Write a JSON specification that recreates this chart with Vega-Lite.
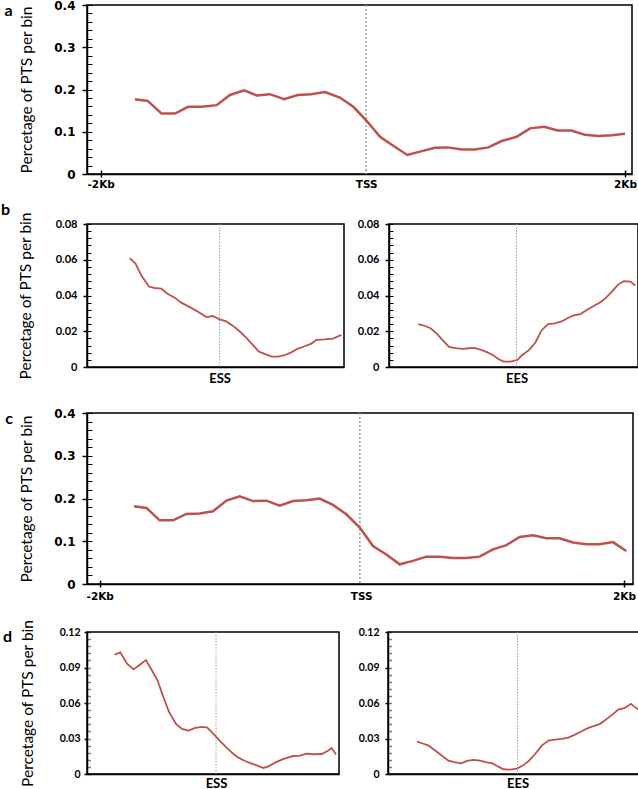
{
  "$schema": "https://vega.github.io/schema/vega-lite/v6.json",
  "padding": {"top": -2, "left": 0, "right": 2, "bottom": 0},
  "background": "white",
  "config": {
    "font": "Lato",
    "view": {"stroke": "black", "strokeWidth": 1.5},
    "axis": {"domainColor": "black", "domainWidth": 1.5, "tickColor": "black", "grid": false, "labelColor": "black", "titleColor": "black"},
    "title": {"orient": "left", "anchor": "end", "angle": 0, "align": "right", "baseline": "top", "frame": "group", "offset": -1, "fontSize": 16, "fontWeight": "bold", "font": "Lato", "color": "black"}
  },
  "datasets": {
    "a": [
      {"pos": -1738, "v": 0.177}, {"pos": -1641, "v": 0.173}, {"pos": -1535, "v": 0.143}, {"pos": -1433, "v": 0.143},
      {"pos": -1332, "v": 0.159}, {"pos": -1230, "v": 0.159}, {"pos": -1115, "v": 0.163}, {"pos": -1014, "v": 0.187},
      {"pos": -905, "v": 0.198}, {"pos": -810, "v": 0.186}, {"pos": -709, "v": 0.189}, {"pos": -600, "v": 0.177},
      {"pos": -497, "v": 0.187}, {"pos": -396, "v": 0.189}, {"pos": -289, "v": 0.194}, {"pos": -175, "v": 0.181},
      {"pos": -73, "v": 0.159}, {"pos": 29, "v": 0.126}, {"pos": 131, "v": 0.088}, {"pos": 232, "v": 0.067},
      {"pos": 339, "v": 0.045}, {"pos": 436, "v": 0.053}, {"pos": 550, "v": 0.062}, {"pos": 647, "v": 0.063},
      {"pos": 754, "v": 0.058}, {"pos": 855, "v": 0.058}, {"pos": 957, "v": 0.063}, {"pos": 1059, "v": 0.078},
      {"pos": 1173, "v": 0.088}, {"pos": 1275, "v": 0.108}, {"pos": 1384, "v": 0.112}, {"pos": 1486, "v": 0.103},
      {"pos": 1588, "v": 0.103}, {"pos": 1694, "v": 0.093}, {"pos": 1796, "v": 0.090}, {"pos": 1898, "v": 0.092},
      {"pos": 2000, "v": 0.095}
    ],
    "c": [
      {"pos": -1738, "v": 0.182}, {"pos": -1644, "v": 0.178}, {"pos": -1542, "v": 0.149}, {"pos": -1441, "v": 0.149},
      {"pos": -1339, "v": 0.164}, {"pos": -1237, "v": 0.165}, {"pos": -1136, "v": 0.170}, {"pos": -1033, "v": 0.195},
      {"pos": -932, "v": 0.205}, {"pos": -830, "v": 0.194}, {"pos": -728, "v": 0.195}, {"pos": -627, "v": 0.183},
      {"pos": -525, "v": 0.194}, {"pos": -423, "v": 0.196}, {"pos": -322, "v": 0.200}, {"pos": -220, "v": 0.185},
      {"pos": -118, "v": 0.163}, {"pos": -16, "v": 0.132}, {"pos": 85, "v": 0.089}, {"pos": 187, "v": 0.069},
      {"pos": 289, "v": 0.046}, {"pos": 390, "v": 0.054}, {"pos": 492, "v": 0.064}, {"pos": 594, "v": 0.064},
      {"pos": 695, "v": 0.061}, {"pos": 797, "v": 0.061}, {"pos": 899, "v": 0.064}, {"pos": 1000, "v": 0.081},
      {"pos": 1103, "v": 0.091}, {"pos": 1204, "v": 0.110}, {"pos": 1306, "v": 0.114}, {"pos": 1408, "v": 0.107},
      {"pos": 1509, "v": 0.107}, {"pos": 1611, "v": 0.097}, {"pos": 1713, "v": 0.093}, {"pos": 1814, "v": 0.093},
      {"pos": 1916, "v": 0.098}, {"pos": 2018, "v": 0.077}
    ],
    "b1": [
      {"pos": 16.6, "v": 0.0609}, {"pos": 18.9, "v": 0.0579}, {"pos": 21.2, "v": 0.051}, {"pos": 24.1, "v": 0.045},
      {"pos": 26.3, "v": 0.0442}, {"pos": 28.9, "v": 0.0438}, {"pos": 31.5, "v": 0.0408}, {"pos": 34.1, "v": 0.0388},
      {"pos": 36.7, "v": 0.036}, {"pos": 40.0, "v": 0.0335}, {"pos": 43.2, "v": 0.0309}, {"pos": 46.5, "v": 0.0279},
      {"pos": 49.0, "v": 0.0285}, {"pos": 51.6, "v": 0.0266}, {"pos": 54.2, "v": 0.0255}, {"pos": 56.8, "v": 0.023},
      {"pos": 59.4, "v": 0.020}, {"pos": 62.0, "v": 0.0163}, {"pos": 64.6, "v": 0.0122}, {"pos": 66.9, "v": 0.0086},
      {"pos": 69.1, "v": 0.0073}, {"pos": 71.8, "v": 0.0058}, {"pos": 74.3, "v": 0.0058}, {"pos": 76.9, "v": 0.0066},
      {"pos": 79.5, "v": 0.0082}, {"pos": 82.1, "v": 0.0103}, {"pos": 84.7, "v": 0.0116}, {"pos": 87.3, "v": 0.0131},
      {"pos": 89.3, "v": 0.0152}, {"pos": 92.5, "v": 0.0154}, {"pos": 95.7, "v": 0.0159}, {"pos": 99.0, "v": 0.018}
    ],
    "b2": [
      {"pos": 11.8, "v": 0.024}, {"pos": 14.0, "v": 0.0232}, {"pos": 16.7, "v": 0.0217}, {"pos": 19.4, "v": 0.0184},
      {"pos": 21.4, "v": 0.0152}, {"pos": 24.1, "v": 0.0112}, {"pos": 26.8, "v": 0.0105}, {"pos": 29.4, "v": 0.0101},
      {"pos": 32.1, "v": 0.0105}, {"pos": 34.1, "v": 0.0107}, {"pos": 36.8, "v": 0.0097}, {"pos": 39.5, "v": 0.0082},
      {"pos": 41.5, "v": 0.0069}, {"pos": 44.1, "v": 0.0043}, {"pos": 46.1, "v": 0.003}, {"pos": 48.8, "v": 0.003},
      {"pos": 51.5, "v": 0.0039}, {"pos": 53.5, "v": 0.0067}, {"pos": 56.2, "v": 0.0094}, {"pos": 58.8, "v": 0.0137},
      {"pos": 61.3, "v": 0.0206}, {"pos": 63.9, "v": 0.024}, {"pos": 66.6, "v": 0.0244}, {"pos": 69.3, "v": 0.0255},
      {"pos": 72.2, "v": 0.0277}, {"pos": 74.2, "v": 0.0289}, {"pos": 76.9, "v": 0.0296}, {"pos": 79.6, "v": 0.032},
      {"pos": 82.2, "v": 0.0341}, {"pos": 84.9, "v": 0.0362}, {"pos": 86.9, "v": 0.0384}, {"pos": 89.6, "v": 0.0423},
      {"pos": 92.0, "v": 0.0461}, {"pos": 94.3, "v": 0.048}, {"pos": 97.0, "v": 0.0478}, {"pos": 98.9, "v": 0.0455}
    ],
    "d1": [
      {"pos": 10.9, "v": 0.1008}, {"pos": 13.2, "v": 0.1028}, {"pos": 15.9, "v": 0.0932}, {"pos": 18.5, "v": 0.0884},
      {"pos": 21.1, "v": 0.0926}, {"pos": 23.4, "v": 0.0963}, {"pos": 25.8, "v": 0.0875}, {"pos": 28.0, "v": 0.079},
      {"pos": 30.4, "v": 0.0644}, {"pos": 32.6, "v": 0.0522}, {"pos": 35.3, "v": 0.0424}, {"pos": 37.7, "v": 0.0381},
      {"pos": 40.3, "v": 0.0367}, {"pos": 42.9, "v": 0.039}, {"pos": 45.6, "v": 0.0398}, {"pos": 47.6, "v": 0.0395},
      {"pos": 50.2, "v": 0.0339}, {"pos": 52.8, "v": 0.0277}, {"pos": 55.5, "v": 0.022}, {"pos": 58.1, "v": 0.0169},
      {"pos": 60.1, "v": 0.0138}, {"pos": 62.7, "v": 0.011}, {"pos": 65.4, "v": 0.0088}, {"pos": 67.4, "v": 0.0073},
      {"pos": 70.0, "v": 0.0051}, {"pos": 72.0, "v": 0.0065}, {"pos": 74.6, "v": 0.0096}, {"pos": 77.3, "v": 0.0121},
      {"pos": 79.9, "v": 0.0141}, {"pos": 81.9, "v": 0.0152}, {"pos": 84.5, "v": 0.0155}, {"pos": 87.2, "v": 0.0172},
      {"pos": 89.8, "v": 0.0167}, {"pos": 93.1, "v": 0.0169}, {"pos": 95.8, "v": 0.0198}, {"pos": 97.1, "v": 0.022},
      {"pos": 98.8, "v": 0.0164}
    ],
    "d2": [
      {"pos": 11.5, "v": 0.0274}, {"pos": 13.5, "v": 0.026}, {"pos": 16.1, "v": 0.024}, {"pos": 18.7, "v": 0.0198},
      {"pos": 21.4, "v": 0.0155}, {"pos": 24.0, "v": 0.0113}, {"pos": 26.7, "v": 0.0099}, {"pos": 29.1, "v": 0.009},
      {"pos": 31.3, "v": 0.011}, {"pos": 33.9, "v": 0.0119}, {"pos": 36.6, "v": 0.0113}, {"pos": 39.2, "v": 0.0099},
      {"pos": 41.5, "v": 0.009}, {"pos": 43.8, "v": 0.0062}, {"pos": 45.8, "v": 0.004}, {"pos": 48.5, "v": 0.0037},
      {"pos": 51.1, "v": 0.0045}, {"pos": 53.5, "v": 0.0071}, {"pos": 55.7, "v": 0.0107}, {"pos": 58.4, "v": 0.0169},
      {"pos": 61.0, "v": 0.024}, {"pos": 63.7, "v": 0.0282}, {"pos": 66.3, "v": 0.0291}, {"pos": 69.0, "v": 0.0296},
      {"pos": 71.6, "v": 0.0308}, {"pos": 74.2, "v": 0.0333}, {"pos": 76.9, "v": 0.0361}, {"pos": 79.5, "v": 0.039},
      {"pos": 82.2, "v": 0.0409}, {"pos": 84.2, "v": 0.0424}, {"pos": 86.8, "v": 0.0466}, {"pos": 89.4, "v": 0.0508},
      {"pos": 91.4, "v": 0.0545}, {"pos": 94.1, "v": 0.0559}, {"pos": 96.4, "v": 0.0593}, {"pos": 98.0, "v": 0.0565},
      {"pos": 99.3, "v": 0.0545}
    ]
  },
  "vconcat": [
    {
      "vconcat": [
        {
          "title": {"text": "a", "dy": -2},
          "width": 545, "height": 169,
          "data": {"name": "a"},
          "layer": [
            {"data": {"values": [{}]}, "mark": {"type": "rule", "color": "#a0a0a0", "strokeDash": [2, 2], "strokeWidth": 1.5},
             "encoding": {"x": {"datum": 25, "type": "quantitative", "axis": null}}},
            {"mark": {"type": "line", "color": "#c0504d", "strokeWidth": 2.5},
             "encoding": {
               "x": {"field": "pos", "type": "quantitative", "scale": {"domain": [-2104, 2053], "nice": false, "zero": false},
                     "axis": {"orient": "bottom", "values": [-2000, 25, 2000], "labelExpr": "datum.value < -1000 ? '-2Kb' : (datum.value > 1000 ? '2Kb' : 'TSS')", "tickSize": 3, "tickWidth": 1.5, "tickOpacity": {"condition": {"test": "datum.value == 25", "value": 0}, "value": 1}, "labelFont": "DejaVu Sans", "labelFontWeight": "bold", "labelFontSize": 10.5, "labelPadding": 2, "title": null}},
               "y": {"field": "v", "type": "quantitative", "scale": {"domain": [0, 0.4], "nice": false},
                     "axis": {"orient": "left", "values": [0, 0.1, 0.2, 0.3, 0.4], "labelExpr": "datum.value == 0 ? '0' : format(datum.value, '.1f')", "tickSize": 5, "tickWidth": 1.5, "labelPadding": 7, "labelFont": "DejaVu Sans", "labelFontWeight": "bold", "labelFontSize": 12, "title": "Percetage of PTS per bin", "titleFont": "Lato", "titleFontSize": 15.5, "titleFontWeight": "normal", "titlePadding": 19}}
             }},
            {"mark": {"type": "line", "opacity": 0},
             "encoding": {
               "x": {"field": "pos", "type": "quantitative", "axis": {"orient": "bottom", "values": [-2000, 2000], "tickSize": -4, "tickWidth": 1.5, "labels": false, "domain": false, "title": null}},
               "y": {"field": "v", "type": "quantitative", "axis": {"orient": "left", "values": [0, 0.02, 0.04, 0.06, 0.08, 0.1, 0.12, 0.14, 0.16, 0.18, 0.2, 0.22, 0.24, 0.26, 0.28, 0.3, 0.32, 0.34, 0.36, 0.38, 0.4], "tickSize": -5, "tickWidth": 1, "labels": false, "domain": false, "title": null}}
             }}
          ],
          "resolve": {"axis": {"x": "independent", "y": "independent"}}
        },
        {
          "hconcat": [
            {
              "title": {"text": "b", "dy": -22},
              "width": 257, "height": 143,
              "data": {"name": "b1"},
              "layer": [
                {"data": {"values": [{}]}, "mark": {"type": "rule", "color": "#a0a0a0", "strokeDash": [1.5, 1.5], "strokeWidth": 1},
                 "encoding": {"x": {"datum": 51.6, "type": "quantitative", "axis": null}}},
                {"mark": {"type": "line", "color": "#c0504d", "strokeWidth": 1.8},
                 "encoding": {
                   "x": {"field": "pos", "type": "quantitative", "scale": {"domain": [0, 100], "nice": false, "zero": false},
                         "axis": {"orient": "bottom", "values": [51.6], "labelExpr": "'ESS'", "tickSize": 0, "labelFont": "Lato", "labelFontWeight": "bold", "labelFontSize": 13, "labelPadding": 5, "title": null}},
                   "y": {"field": "v", "type": "quantitative", "scale": {"domain": [0, 0.08], "nice": false},
                         "axis": {"orient": "left", "values": [0, 0.02, 0.04, 0.06, 0.08], "labelExpr": "datum.value == 0 ? '0' : format(datum.value, '.2f')", "tickSize": 4, "tickWidth": 1.5, "labelPadding": 6, "labelFont": "Lato", "labelFontWeight": "bold", "labelFontSize": 11, "title": "Percetage of PTS per bin", "titleFont": "Lato", "titleFontSize": 15.5, "titleFontWeight": "normal", "titlePadding": 22}}
                 }},
                {"mark": {"type": "line", "opacity": 0},
                 "encoding": {
                   "x": {"field": "pos", "type": "quantitative", "axis": null},
                   "y": {"field": "v", "type": "quantitative", "axis": {"orient": "left", "values": [0, 0.004, 0.008, 0.012, 0.016, 0.02, 0.024, 0.028, 0.032, 0.036, 0.04, 0.044, 0.048, 0.052, 0.056, 0.06, 0.064, 0.068, 0.072, 0.076, 0.08], "tickSize": -4, "tickWidth": 1, "labels": false, "domain": false, "title": null}}
                 }}
              ],
              "resolve": {"axis": {"x": "independent", "y": "independent"}}
            },
            {
              "width": 249, "height": 143,
              "data": {"name": "b2"},
              "layer": [
                {"data": {"values": [{}]}, "mark": {"type": "rule", "color": "#a0a0a0", "strokeDash": [1.5, 1.5], "strokeWidth": 1},
                 "encoding": {"x": {"datum": 51.2, "type": "quantitative", "axis": null}}},
                {"mark": {"type": "line", "color": "#c0504d", "strokeWidth": 1.8},
                 "encoding": {
                   "x": {"field": "pos", "type": "quantitative", "scale": {"domain": [0, 100], "nice": false, "zero": false},
                         "axis": {"orient": "bottom", "values": [51.2], "labelExpr": "'EES'", "tickSize": 0, "labelFont": "Lato", "labelFontWeight": "bold", "labelFontSize": 13, "labelPadding": 5, "title": null}},
                   "y": {"field": "v", "type": "quantitative", "scale": {"domain": [0, 0.08], "nice": false},
                         "axis": {"orient": "left", "values": [0, 0.02, 0.04, 0.06, 0.08], "labelExpr": "datum.value == 0 ? '0' : format(datum.value, '.2f')", "tickSize": 4, "tickWidth": 1.5, "labelPadding": 6, "labelFont": "Lato", "labelFontWeight": "bold", "labelFontSize": 11, "title": null}}
                 }},
                {"mark": {"type": "line", "opacity": 0},
                 "encoding": {
                   "x": {"field": "pos", "type": "quantitative", "axis": null},
                   "y": {"field": "v", "type": "quantitative", "axis": {"orient": "left", "values": [0, 0.004, 0.008, 0.012, 0.016, 0.02, 0.024, 0.028, 0.032, 0.036, 0.04, 0.044, 0.048, 0.052, 0.056, 0.06, 0.064, 0.068, 0.072, 0.076, 0.08], "tickSize": -4, "tickWidth": 1, "labels": false, "domain": false, "title": null}}
                 }}
              ],
              "resolve": {"axis": {"x": "independent", "y": "independent"}}
            }
          ],
          "spacing": 10
        }
      ],
      "spacing": 10
    },
    {
      "vconcat": [
        {
          "title": {"text": "c", "dy": -2},
          "width": 546, "height": 171,
          "data": {"name": "c"},
          "layer": [
            {"data": {"values": [{}]}, "mark": {"type": "rule", "color": "#a0a0a0", "strokeDash": [2, 2], "strokeWidth": 1.5},
             "encoding": {"x": {"datum": -15, "type": "quantitative", "axis": null}}},
            {"mark": {"type": "line", "color": "#c0504d", "strokeWidth": 2.5},
             "encoding": {
               "x": {"field": "pos", "type": "quantitative", "scale": {"domain": [-2097, 2069], "nice": false, "zero": false},
                     "axis": {"orient": "bottom", "values": [-2000, -5, 2000], "labelExpr": "datum.value < -1000 ? '-2Kb' : (datum.value > 1000 ? '2Kb' : 'TSS')", "tickSize": 3, "tickWidth": 1.5, "tickOpacity": {"condition": {"test": "datum.value == -5", "value": 0}, "value": 1}, "labelFont": "DejaVu Sans", "labelFontWeight": "bold", "labelFontSize": 10.5, "labelPadding": 4, "title": null}},
               "y": {"field": "v", "type": "quantitative", "scale": {"domain": [0, 0.4], "nice": false},
                     "axis": {"orient": "left", "values": [0, 0.1, 0.2, 0.3, 0.4], "labelExpr": "datum.value == 0 ? '0' : format(datum.value, '.1f')", "tickSize": 5, "tickWidth": 1.5, "labelPadding": 7, "labelFont": "DejaVu Sans", "labelFontWeight": "bold", "labelFontSize": 12, "title": "Percetage of PTS per bin", "titleFont": "Lato", "titleFontSize": 15.5, "titleFontWeight": "normal", "titlePadding": 19}}
             }},
            {"mark": {"type": "line", "opacity": 0},
             "encoding": {
               "x": {"field": "pos", "type": "quantitative", "axis": {"orient": "bottom", "values": [-2000, 2000], "tickSize": -4, "tickWidth": 1.5, "labels": false, "domain": false, "title": null}},
               "y": {"field": "v", "type": "quantitative", "axis": {"orient": "left", "values": [0, 0.02, 0.04, 0.06, 0.08, 0.1, 0.12, 0.14, 0.16, 0.18, 0.2, 0.22, 0.24, 0.26, 0.28, 0.3, 0.32, 0.34, 0.36, 0.38, 0.4], "tickSize": -5, "tickWidth": 1, "labels": false, "domain": false, "title": null}}
             }}
          ],
          "resolve": {"axis": {"x": "independent", "y": "independent"}}
        },
        {
          "hconcat": [
            {
              "title": {"text": "d", "dy": -3},
              "width": 252, "height": 142,
              "data": {"name": "d1"},
              "layer": [
                {"data": {"values": [{}]}, "mark": {"type": "rule", "color": "#a0a0a0", "strokeDash": [1.5, 1.5], "strokeWidth": 1},
                 "encoding": {"x": {"datum": 51.2, "type": "quantitative", "axis": null}}},
                {"mark": {"type": "line", "color": "#c0504d", "strokeWidth": 1.8},
                 "encoding": {
                   "x": {"field": "pos", "type": "quantitative", "scale": {"domain": [0, 100], "nice": false, "zero": false},
                         "axis": {"orient": "bottom", "values": [51.2], "labelExpr": "'ESS'", "tickSize": 0, "labelFont": "Lato", "labelFontWeight": "bold", "labelFontSize": 13, "labelPadding": 3, "title": null}},
                   "y": {"field": "v", "type": "quantitative", "scale": {"domain": [0, 0.12], "nice": false},
                         "axis": {"orient": "left", "values": [0, 0.03, 0.06, 0.09, 0.12], "labelExpr": "datum.value == 0 ? '0' : format(datum.value, '.2f')", "tickSize": 3, "tickWidth": 1.5, "labelPadding": 4, "labelFont": "Lato", "labelFontWeight": "bold", "labelFontSize": 10.5, "title": "Percetage of PTS per bin", "titleFont": "Lato", "titleFontSize": 15.5, "titleFontWeight": "normal", "titlePadding": 24}}
                 }},
                {"mark": {"type": "line", "opacity": 0},
                 "encoding": {
                   "x": {"field": "pos", "type": "quantitative", "axis": null},
                   "y": {"field": "v", "type": "quantitative", "axis": {"orient": "left", "values": [0, 0.006, 0.012, 0.018, 0.024, 0.03, 0.036, 0.042, 0.048, 0.054, 0.06, 0.066, 0.072, 0.078, 0.084, 0.09, 0.096, 0.102, 0.108, 0.114, 0.12], "tickSize": -3, "tickWidth": 1.5, "tickDash": [1, 1], "labels": false, "domain": false, "title": null}}
                 }}
              ],
              "resolve": {"axis": {"x": "independent", "y": "independent"}}
            },
            {
              "width": 252, "height": 142,
              "data": {"name": "d2"},
              "layer": [
                {"data": {"values": [{}]}, "mark": {"type": "rule", "color": "#a0a0a0", "strokeDash": [1.5, 1.5], "strokeWidth": 1},
                 "encoding": {"x": {"datum": 51.4, "type": "quantitative", "axis": null}}},
                {"mark": {"type": "line", "color": "#c0504d", "strokeWidth": 1.8},
                 "encoding": {
                   "x": {"field": "pos", "type": "quantitative", "scale": {"domain": [0, 100], "nice": false, "zero": false},
                         "axis": {"orient": "bottom", "values": [51.4], "labelExpr": "'EES'", "tickSize": 0, "labelFont": "Lato", "labelFontWeight": "bold", "labelFontSize": 13, "labelPadding": 3, "title": null}},
                   "y": {"field": "v", "type": "quantitative", "scale": {"domain": [0, 0.12], "nice": false},
                         "axis": {"orient": "left", "values": [0, 0.03, 0.06, 0.09, 0.12], "labelExpr": "datum.value == 0 ? '0' : format(datum.value, '.2f')", "tickSize": 3, "tickWidth": 1.5, "labelPadding": 6, "labelFont": "Lato", "labelFontWeight": "bold", "labelFontSize": 10.5, "title": null}}
                 }},
                {"mark": {"type": "line", "opacity": 0},
                 "encoding": {
                   "x": {"field": "pos", "type": "quantitative", "axis": null},
                   "y": {"field": "v", "type": "quantitative", "axis": {"orient": "left", "values": [0, 0.006, 0.012, 0.018, 0.024, 0.03, 0.036, 0.042, 0.048, 0.054, 0.06, 0.066, 0.072, 0.078, 0.084, 0.09, 0.096, 0.102, 0.108, 0.114, 0.12], "tickSize": -3, "tickWidth": 1.5, "tickDash": [1, 1], "labels": false, "domain": false, "title": null}}
                 }}
              ],
              "resolve": {"axis": {"x": "independent", "y": "independent"}}
            }
          ],
          "spacing": 16
        }
      ],
      "spacing": 15
    }
  ],
  "spacing": 20
}
